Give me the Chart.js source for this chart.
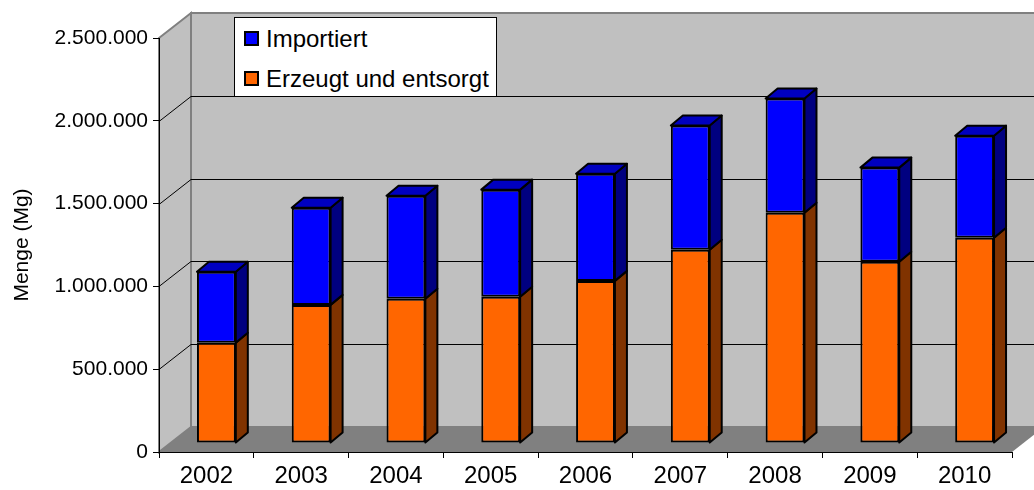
<!DOCTYPE html>
<html>
<head>
<meta charset="utf-8">
<script src="https://cdn.jsdelivr.net/npm/chart.js@4/dist/chart.umd.min.js"></script>
<style>
  body { margin: 0; background: #fff; }
  #wrap { position: relative; width: 1034px; height: 490px; }
  #legende {
    position: absolute; left: 234px; top: 17px; width: 263px; height: 80px;
    box-sizing: border-box; border: 1px solid #000; background: #fff;
    font-family: "Liberation Sans", Arial, sans-serif; font-size: 24px; color: #000;
  }
  .eintrag { position: absolute; left: 9px; height: 26px; line-height: 26px; white-space: nowrap; }
  .kasten { display: inline-block; width: 11px; height: 11px; border: 2px solid #000; vertical-align: middle; margin-right: 7px; position: relative; top: -2px; }
</style>
</head>
<body>
<div id="wrap">
  <canvas id="graf" width="1034" height="490"></canvas>
  <div id="legende">
    <div class="eintrag" style="top:8px"><span class="kasten" style="background:#0000ff"></span>Importiert</div>
    <div class="eintrag" style="top:48px"><span class="kasten" style="background:#ff6600"></span>Erzeugt und entsorgt</div>
  </div>
</div>
<script>
const jahre = ['2002', '2003', '2004', '2005', '2006', '2007', '2008', '2009', '2010'];
const erzeugt = [605000, 834000, 871000, 883000, 979000, 1167000, 1391000, 1094000, 1239000];
const importiert = [429000, 587000, 622000, 647000, 647000, 750000, 689000, 569000, 617000];
const yTicks = [0, 500000, 1000000, 1500000, 2000000, 2500000];

// Tiefe der Wand und Verschiebung der Saeulen (Pseudo-3D wie in Excel)
const TX = 32, TY = -25;
const BX = 10, BY = -9;
const SX = 12, SY = -10;

const punkte = v => String(v).replace(/\B(?=(\d{3})+(?!\d))/g, '.');

function poly(ctx, pts, fill, stroke, lw) {
  ctx.beginPath();
  ctx.moveTo(pts[0][0], pts[0][1]);
  for (let i = 1; i < pts.length; i++) ctx.lineTo(pts[i][0], pts[i][1]);
  ctx.closePath();
  if (fill) { ctx.fillStyle = fill; ctx.fill(); }
  if (stroke) { ctx.strokeStyle = stroke; ctx.lineWidth = lw || 1; ctx.stroke(); }
}

const waende = {
  id: 'waende',
  beforeDraw(chart) {
    const ctx = chart.ctx;
    const a = chart.chartArea;
    const y = chart.scales.y;
    ctx.save();
    ctx.lineJoin = 'miter';
    // linke Wand
    poly(ctx, [[a.left, a.top], [a.left + TX, a.top + TY], [a.left + TX, a.bottom + TY], [a.left, a.bottom]], '#c0c0c0', '#808080', 2);
    // Rueckwand
    poly(ctx, [[a.left + TX, a.top + TY], [a.right + TX, a.top + TY], [a.right + TX, a.bottom + TY], [a.left + TX, a.bottom + TY]], '#c0c0c0', '#808080', 2);
    // Gitterlinien
    ctx.strokeStyle = '#000';
    ctx.lineWidth = 1;
    yTicks.forEach(v => {
      if (v === 0 || v === yTicks[yTicks.length - 1]) return;
      const py = Math.round(y.getPixelForValue(v)) + 0.5;
      ctx.beginPath();
      ctx.moveTo(a.left, py);
      ctx.lineTo(a.left + TX, py + TY);
      ctx.lineTo(a.right + TX + 20, py + TY);
      ctx.stroke();
    });
    // Boden
    poly(ctx, [[a.left, a.bottom], [a.right, a.bottom], [a.right + TX, a.bottom + TY], [a.left + TX, a.bottom + TY]], '#808080', null);
    ctx.restore();
  },
  beforeDatasetsDraw(chart) {
    chart.ctx.save();
    chart.ctx.translate(BX, BY);
  },
  afterDatasetsDraw(chart) {
    const ctx = chart.ctx;
    const seiten = ['#803300', '#000080'];
    ctx.lineJoin = 'round';
    chart.data.datasets.forEach((ds, i) => {
      chart.getDatasetMeta(i).data.forEach(bar => {
        const r = bar.x + bar.width / 2;
        const l = bar.x - bar.width / 2;
        poly(ctx, [[r, bar.y], [r + SX, bar.y + SY], [r + SX, bar.base + SY], [r, bar.base]], seiten[i], '#000', 2);
        if (i === chart.data.datasets.length - 1) {
          poly(ctx, [[l, bar.y], [l + SX, bar.y + SY], [r + SX, bar.y + SY], [r, bar.y]], '#0000c0', '#000', 2);
        }
      });
    });
    ctx.restore();
  }
};

new Chart(document.getElementById('graf'), {
  type: 'bar',
  data: {
    labels: jahre,
    datasets: [{
      label: 'Erzeugt und entsorgt',
      data: erzeugt,
      backgroundColor: '#ff6600',
      borderColor: '#000',
      borderWidth: 2,
      borderSkipped: false,
      clip: false
    }, {
      label: 'Importiert',
      data: importiert,
      backgroundColor: '#0000ff',
      borderColor: '#000',
      borderWidth: 2,
      borderSkipped: false,
      clip: false
    }]
  },
  options: {
    responsive: false,
    animation: false,
    events: [],
    layout: { padding: { left: 0, top: 38, right: 22, bottom: 0 } },
    datasets: { bar: { categoryPercentage: 1, barPercentage: 0.41 } },
    scales: {
      x: {
        stacked: true,
        afterFit: s => { s.height = 38; },
        grid: { drawOnChartArea: false, drawTicks: true, tickLength: 6, color: '#000', offset: true },
        border: { display: true, color: '#000', width: 1 },
        ticks: { color: '#000', padding: 4, font: { family: '"Liberation Sans", Arial, sans-serif', size: 24 } }
      },
      y: {
        stacked: true,
        min: 0,
        max: 2500000,
        afterFit: s => { s.width = 159; },
        afterBuildTicks: s => { s.ticks = yTicks.map(v => ({ value: v })); },
        grid: { drawOnChartArea: false, drawTicks: true, tickLength: 6, color: '#000' },
        border: { display: true, color: '#000', width: 1 },
        ticks: {
          color: '#000', padding: 5,
          font: { family: '"Liberation Sans", Arial, sans-serif', size: 21 },
          callback: v => punkte(v)
        },
        title: {
          display: true, text: 'Menge (Mg)', color: '#000',
          padding: { top: 10, bottom: 0 },
          font: { family: '"Liberation Sans", Arial, sans-serif', size: 21 }
        }
      }
    },
    plugins: {
      legend: { display: false },
      tooltip: { enabled: false }
    }
  },
  plugins: [waende]
});
</script>
</body>
</html>
